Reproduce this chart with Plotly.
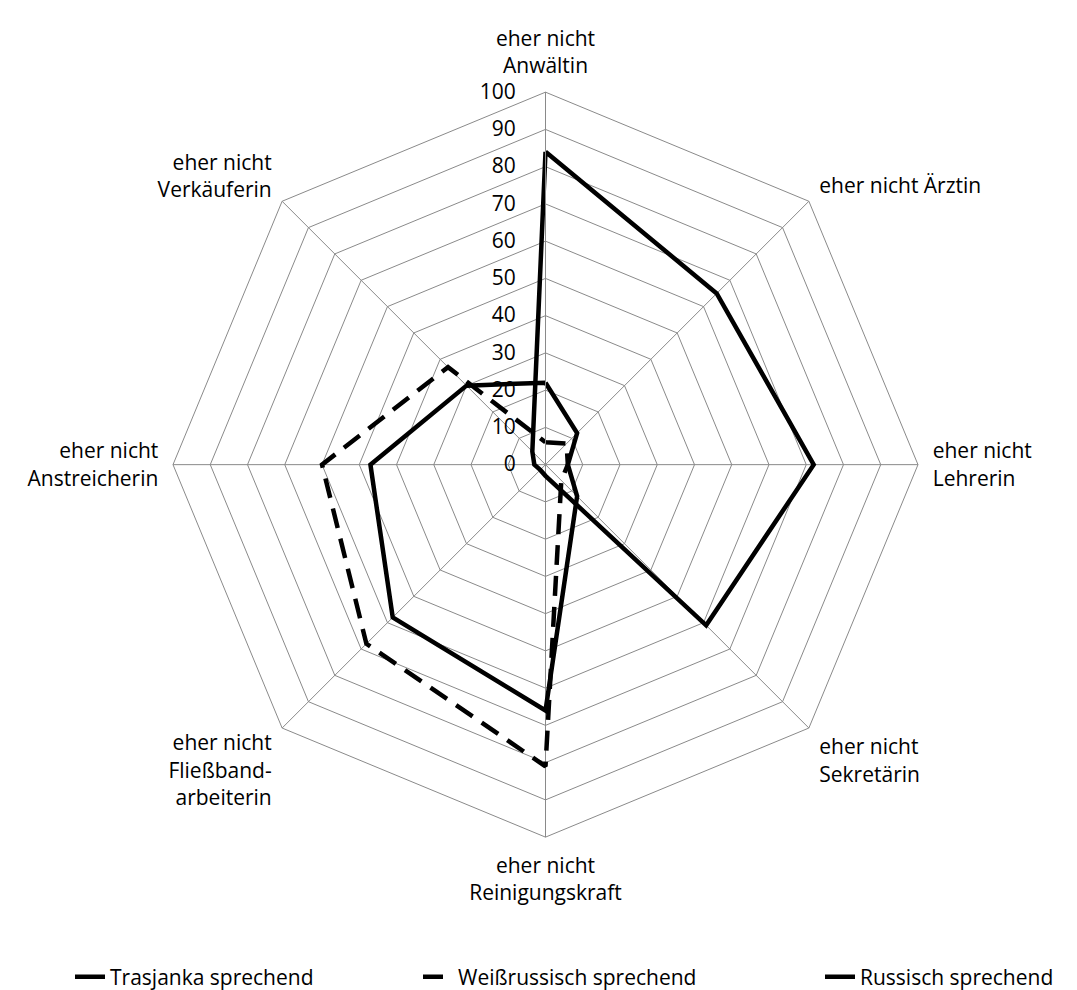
import plotly.graph_objects as go

categories = [
    "eher nicht<br>Anwältin",
    "eher nicht Ärztin",
    "eher nicht<br>Lehrerin",
    "eher nicht<br>Sekretärin",
    "eher nicht<br>Reinigungskraft",
    "eher nicht<br>Fließband-<br>arbeiterin",
    "eher nicht<br>Anstreicherin",
    "eher nicht<br>Verkäuferin",
]
trasjanka = [84, 65, 72, 61, 3, 2, 3, 5]
weissrussisch = [6, 8, 6, 6, 81, 68, 60, 37]
russisch = [22, 12, 6, 12, 66, 58, 47, 30]
radial_ticks = [0, 10, 20, 30, 40, 50, 60, 70, 80, 90, 100]

series = [
    ("Trasjanka sprechend", trasjanka, "solid", "legend"),
    ("Weißrussisch sprechend", weissrussisch, "20px,11px", "legend2"),
    ("Russisch sprechend", russisch, "solid", "legend3"),
]

FONT = "Open Sans, sans-serif"
FS = 21
GRID = "#8a8a8a"

fig = go.Figure()
for name, vals, dash, lg in series:
    fig.add_trace(go.Scatterpolar(
        r=vals + vals[:1],
        theta=categories + categories[:1],
        mode="lines",
        name=name,
        legend=lg,
        showlegend=True,
        line=dict(color="black", width=4.5, dash=dash),
    ))

W, H = 1077, 990
cx, cy, R = 537.5, 458.5, 374


def legend_at(px):
    return dict(
        orientation="h",
        x=px / W, xanchor="left",
        y=(H - 973) / H, yanchor="middle",
        font=dict(family=FONT, size=FS, color="black"),
        bgcolor="rgba(0,0,0,0)",
        visible=True,
    )


fig.update_layout(
    width=W, height=H,
    showlegend=True,
    margin=dict(l=0, r=0, t=0, b=0),
    paper_bgcolor="white",
    plot_bgcolor="white",
    font=dict(family=FONT, size=FS, color="black"),
    polar=dict(
        domain=dict(x=[(cx - R) / W, (cx + R) / W],
                    y=[(H - cy - R) / H, (H - cy + R) / H]),
        gridshape="linear",
        bgcolor="white",
        radialaxis=dict(
            range=[0, 100],
            tickvals=radial_ticks,
            ticktext=[str(v) for v in radial_ticks],
            angle=90,
            tickangle=90,
            side="counterclockwise",
            showline=True,
            linecolor=GRID,
            linewidth=1,
            gridcolor=GRID,
            gridwidth=1,
            ticks="outside",
            ticklen=22,
            tickcolor="rgba(0,0,0,0)",
            tickfont=dict(family=FONT, size=FS, color="black"),
        ),
        angularaxis=dict(
            rotation=90,
            direction="clockwise",
            showline=True,
            linecolor=GRID,
            linewidth=1,
            gridcolor=GRID,
            gridwidth=1,
            ticks="outside",
            ticklen=10,
            tickcolor="rgba(0,0,0,0)",
            tickfont=dict(family=FONT, size=FS, color="black"),
        ),
    ),
    legend=legend_at(62),
    legend2=legend_at(410),
    legend3=legend_at(812),
)

fig.write_html("out.html")
